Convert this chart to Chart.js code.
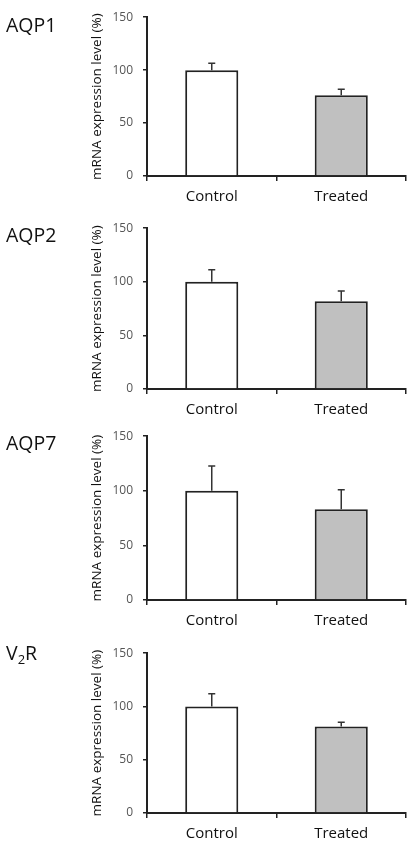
<!DOCTYPE html>
<html>
<head>
<meta charset="utf-8">
<script src="https://cdn.jsdelivr.net/npm/chart.js@4/dist/chart.umd.min.js"></script>
<style>
  html, body { margin: 0; padding: 0; background: #fff; }
  body { width: 416px; height: 850px; position: relative; overflow: hidden; font-family: 'Open Sans', sans-serif; }
  .panel { position: absolute; left: 0; }
  .title { position: absolute; left: 6px; font-size: 19.5px; line-height: 1; color: #111; font-family: 'Open Sans', sans-serif; font-weight: 500; }
  .title sub { font-size: 13px; vertical-align: -4px; line-height: 0; }
</style>
</head>
<body>
<script>
// ---- Data ----
const panelNames = ["AQP1", "AQP2", "AQP7", "V2R"];
const categories = ["Control", "Treated"];
const yTickValues = [0, 50, 100, 150];
const aqp1Values = [100, 76.3];
const aqp1Errors = [6.6, 5.6];
const aqp2Values = [100, 81.9];
const aqp2Errors = [11.3, 9.6];
const aqp7Values = [100, 83.0];
const aqp7Errors = [22.7, 17.9];
const v2rValues = [100, 81.2];
const v2rErrors = [12.0, 4.0];
const yAxisTitle = "mRNA expression level (%)";

// ---- Layout (positions/sizes) ----
const panelLayout = [
  { top: 0,   height: 210, titleTop: 15,  titleHtml: "AQP1", values: aqp1Values, errors: aqp1Errors },
  { top: 211, height: 212, titleTop: 225, titleHtml: "AQP2", values: aqp2Values, errors: aqp2Errors },
  { top: 419, height: 215, titleTop: 433, titleHtml: "AQP7", values: aqp7Values, errors: aqp7Errors },
  { top: 636, height: 211, titleTop: 643, titleHtml: "V<sub>2</sub>R", values: v2rValues, errors: v2rErrors }
];

const errorBarPlugin = {
  id: 'errorBars',
  afterDatasetsDraw(chart) {
    const ctx = chart.ctx;
    const yScale = chart.scales.y;
    chart.data.datasets.forEach((ds, di) => {
      const meta = chart.getDatasetMeta(di);
      meta.data.forEach((bar, i) => {
        const v = ds.data[i];
        const e = ds.errors[i];
        const yTop = yScale.getPixelForValue(v);
        const yErr = yScale.getPixelForValue(v + e);
        ctx.save();
        ctx.strokeStyle = '#333';
        ctx.lineWidth = 1.5;
        ctx.beginPath();
        ctx.moveTo(bar.x, yTop);
        ctx.lineTo(bar.x, yErr);
        ctx.moveTo(bar.x - 3.5, yErr);
        ctx.lineTo(bar.x + 3.5, yErr);
        ctx.stroke();
        ctx.restore();
      });
    });
  }
};

panelLayout.forEach((p, idx) => {
  const div = document.createElement('div');
  div.className = 'panel';
  div.style.top = p.top + 'px';
  div.style.width = '416px';
  div.style.height = p.height + 'px';
  const canvas = document.createElement('canvas');
  canvas.width = 416;
  canvas.height = p.height;
  canvas.style.width = '416px';
  canvas.style.height = p.height + 'px';
  div.appendChild(canvas);
  document.body.appendChild(div);

  const t = document.createElement('div');
  t.className = 'title';
  t.style.top = p.titleTop + 'px';
  t.innerHTML = p.titleHtml;
  document.body.appendChild(t);

  new Chart(canvas.getContext('2d'), {
    type: 'bar',
    data: {
      labels: categories,
      datasets: [{
        data: p.values,
        errors: p.errors,
        backgroundColor: ['#ffffff', '#c0c0c0'],
        borderColor: '#222',
        borderWidth: 2,
        barPercentage: 0.41,
        categoryPercentage: 1.0
      }]
    },
    options: {
      responsive: false,
      animation: false,
      devicePixelRatio: 1,
      layout: { padding: { left: 89, right: 10, top: 16, bottom: 0 } },
      plugins: { legend: { display: false }, tooltip: { enabled: false } },
      scales: {
        x: {
          grid: { display: true, drawOnChartArea: false, drawTicks: true, tickLength: 5, color: '#222', lineWidth: 1.5, offset: true },
          border: { display: true, color: '#222', width: 2 },
          ticks: { color: '#111', font: { family: 'Open Sans', size: 15, weight: '500' }, padding: 7 },
          afterFit: (s) => { s.height = 34; }
        },
        y: {
          min: 0, max: 150,
          afterBuildTicks: (s) => { s.ticks = yTickValues.map(v => ({ value: v })); },
          grid: { display: true, drawOnChartArea: false, drawTicks: true, tickLength: 4, color: '#222', lineWidth: 1.5 },
          border: { display: true, color: '#222', width: 2 },
          ticks: { color: '#555', font: { family: 'Open Sans', size: 12 }, padding: 10 },
          title: { display: true, text: yAxisTitle, color: '#111', font: { family: 'Open Sans', size: 13.5, weight: '500' }, padding: 0 },
          afterFit: (s) => { s.width = 58; }
        }
      }
    },
    plugins: [errorBarPlugin]
  });
});
</script>
</body>
</html>
